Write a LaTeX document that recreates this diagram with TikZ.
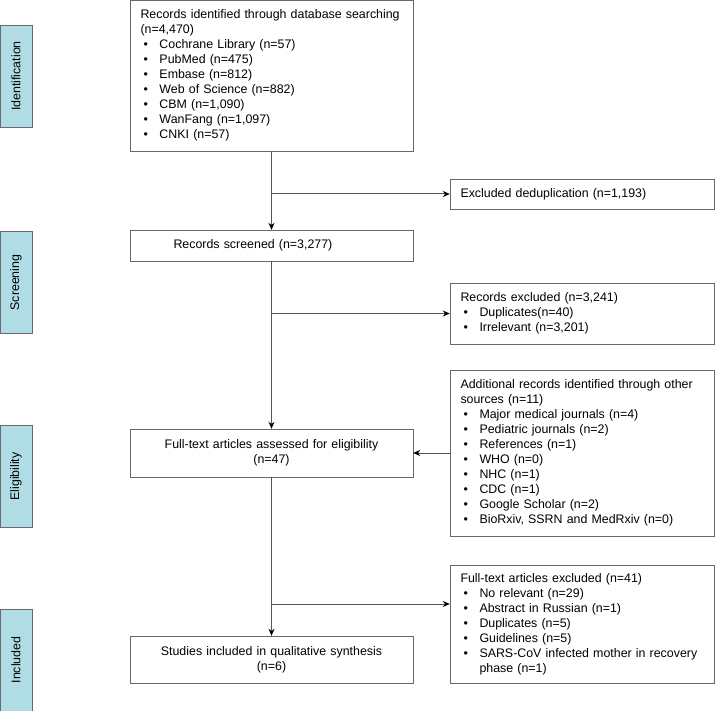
\documentclass[tikz,border=0pt]{standalone}
\usepackage{fontspec}
\setmainfont{Liberation Sans}
\usetikzlibrary{arrows.meta}
\definecolor{stagefill}{RGB}{176,221,229}
\definecolor{boxline}{RGB}{105,105,105}
\definecolor{linkline}{RGB}{85,85,85}
\newcommand{\bul}{\makebox[19pt][l]{\hspace{3pt}\textbullet}}

\begin{document}
\begin{tikzpicture}[x=1pt,y=1pt,font=\fontsize{12.4}{15}\selectfont]
\useasboundingbox (0,0) rectangle (715,-711);

% stages
\begin{scope}[every node/.style={draw=boxline,fill=stagefill,rotate=90,minimum width=102pt,minimum height=32pt,inner sep=0pt}]
    \node (id) at (16,-76) {Identification};
    \node (sc) at (16,-282.5) {Screening};
    \node (el) at (16,-476.5) {Eligibility};
    \node (in) at (16,-660) {Included};
\end{scope}

% left column
\begin{scope}[every node/.style={draw=boxline,inner xsep=10.5pt,inner ysep=0pt,text width=262pt}]
    \node[align=left,minimum height=151pt] (ident) at (271.5,-75.5)
        {Records identified through database searching\\
         (n=4,470)\\
         \bul Cochrane Library (n=57)\\
         \bul PubMed (n=475)\\
         \bul Embase (n=812)\\
         \bul Web of Science (n=882)\\
         \bul CBM (n=1,090)\\
         \bul WanFang (n=1,097)\\
         \bul CNKI (n=57)};
    \node[align=left,minimum height=31pt] (screen) at (271.5,-245.5)
        {\hspace{33pt}Records screened (n=3,277)};
    \node[align=center,minimum height=48pt] (elig) at (271.5,-453)
        {Full-text articles assessed for eligibility\\(n=47)};
    \node[align=center,minimum height=47pt] (incl) at (271.5,-659.5)
        {Studies included in qualitative synthesis\\(n=6)};
\end{scope}

% right column
\begin{scope}[every node/.style={draw=boxline,inner xsep=10.5pt,inner ysep=0pt,text width=243pt,align=left}]
    \node[minimum height=30pt] (dedup) at (582,-194)
        {Excluded deduplication (n=1,193)};
    \node[minimum height=61pt] (recex) at (582,-313.5)
        {Records excluded (n=3,241)\\
         \bul Duplicates(n=40)\\
         \bul Irrelevant (n=3,201)};
    \node[minimum height=166pt] (addit) at (582,-453)
        {Additional records identified through other\\
         sources (n=11)\\
         \bul Major medical journals (n=4)\\
         \bul Pediatric journals (n=2)\\
         \bul References (n=1)\\
         \bul WHO (n=0)\\
         \bul NHC (n=1)\\
         \bul CDC (n=1)\\
         \bul Google Scholar (n=2)\\
         \bul BioRxiv, SSRN and MedRxiv (n=0)};
    \node[minimum height=118pt] (ftex) at (582,-624)
        {Full-text articles excluded (n=41)\\
         \bul No relevant (n=29)\\
         \bul Abstract in Russian (n=1)\\
         \bul Duplicates (n=5)\\
         \bul Guidelines (n=5)\\
         \bul SARS-CoV infected mother in recovery\\
         \hspace{19pt}phase (n=1)};
\end{scope}

\coordinate (ftin) at ([yshift=20pt]ftex.west);

\begin{scope}[>={Stealth[black,length=7pt,width=6pt]},
              every edge/.style={draw=linkline,line width=1pt}]
    \path [->] (ident) edge (screen);
    \path [->] (screen) edge (elig);
    \path [->] (elig) edge (incl);
    \path [->] (addit) edge (elig);
    \path [->] (ident.south |- dedup.west) edge (dedup.west);
    \path [->] (ident.south |- recex.west) edge (recex.west);
    \path [->] (ident.south |- ftin) edge (ftin);
\end{scope}
\end{tikzpicture}
\end{document}
